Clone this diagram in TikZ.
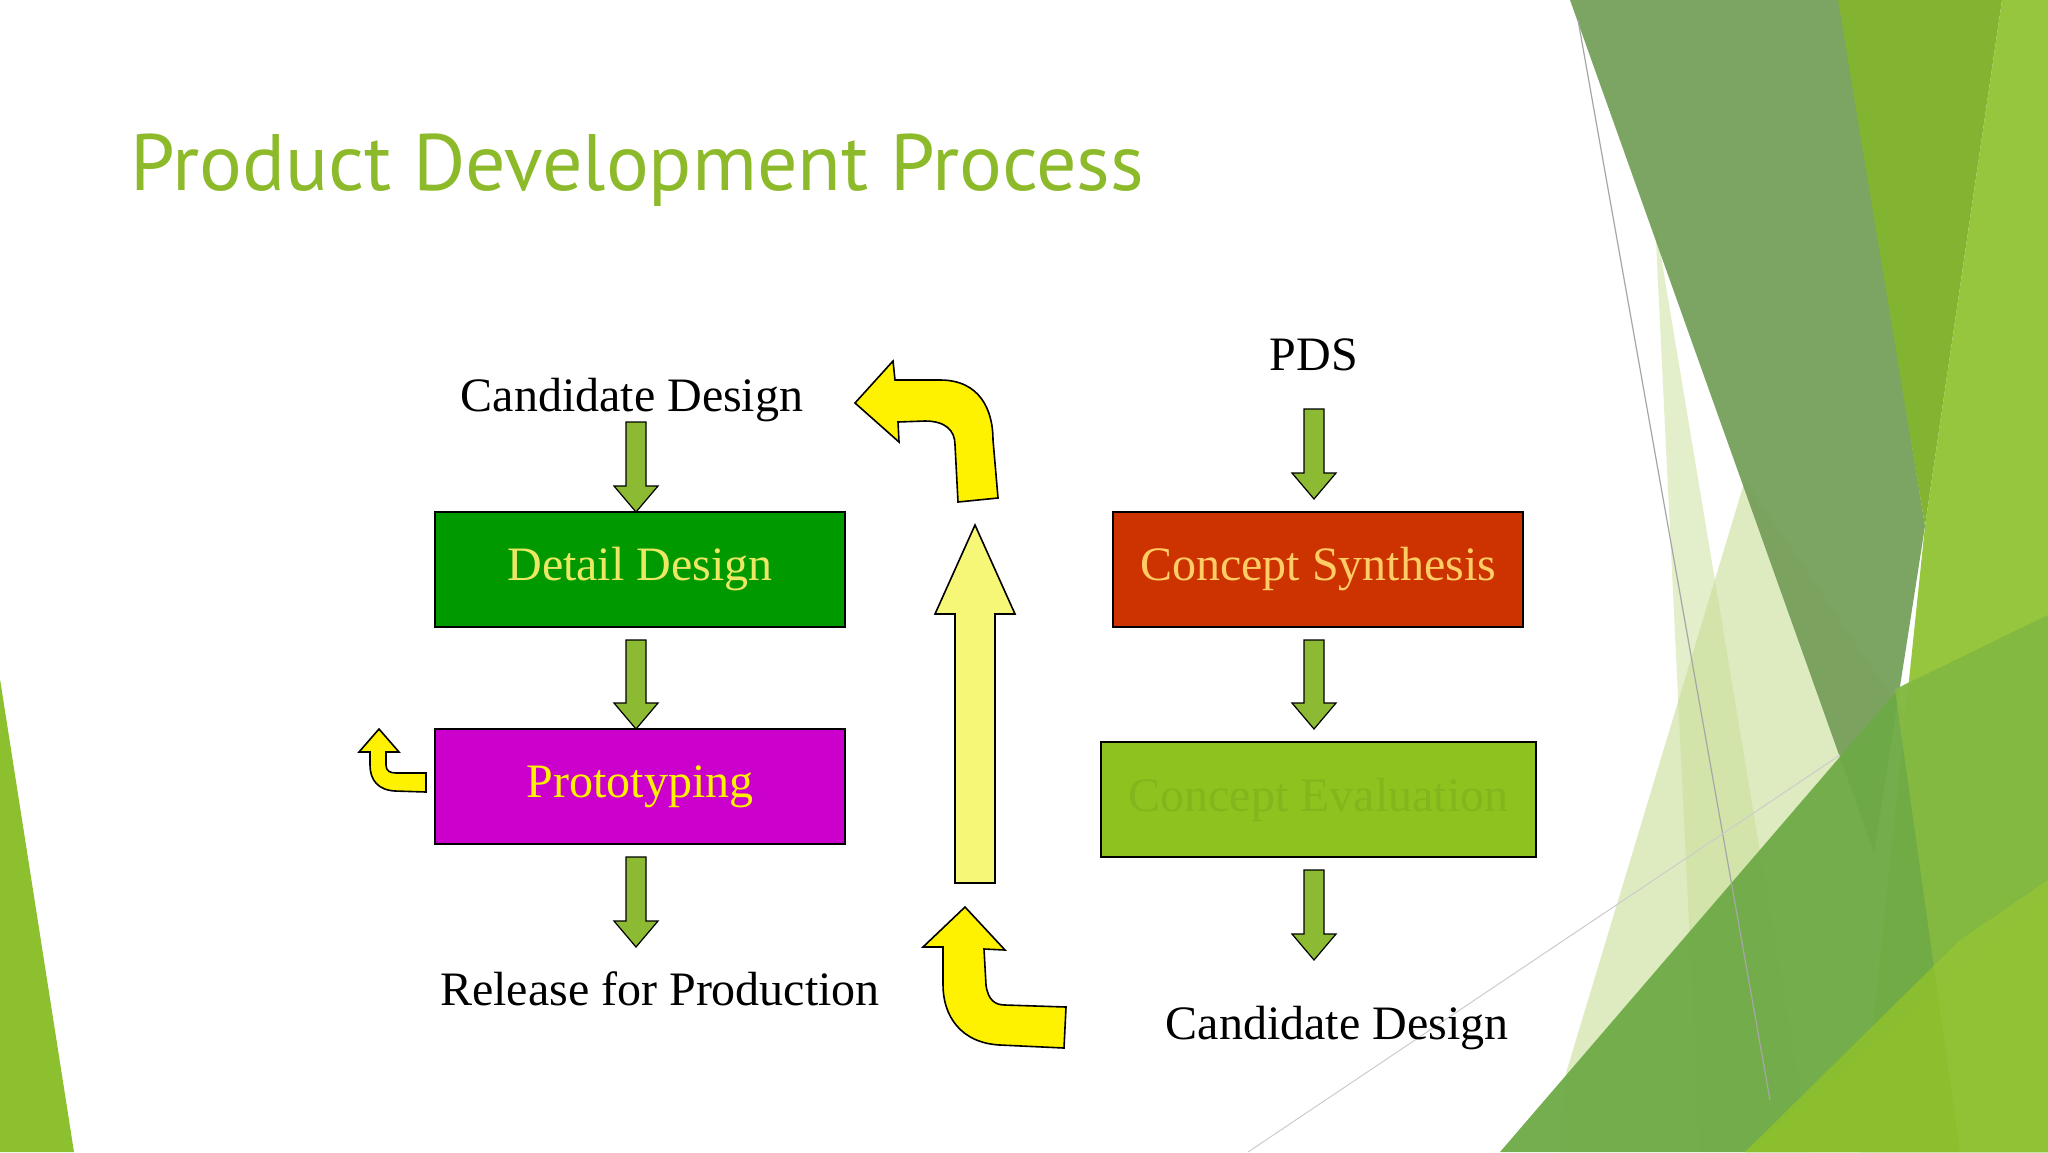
\documentclass[tikz,border=0pt]{standalone}
\usepackage{fontspec}
\setmainfont{Liberation Serif}
\newfontfamily\titlefont{PT Sans}
\begin{document}
\begin{tikzpicture}[x=0.5pt,y=-0.5pt,
  box/.style={draw=black,line width=0.8pt,minimum width=205pt,minimum height=57.5pt,inner sep=0pt,font=\fontsize{24}{28}\selectfont},
  lbl/.style={font=\fontsize{24}{28}\selectfont,text=black,inner sep=0pt},
  garrowstyle/.style={fill=arrowgreen,draw=black,line width=0.6pt,line join=miter},
  curvy/.style={fill=yellow,draw=black,line width=0.8pt,line join=miter}]
\definecolor{titlegreen}{RGB}{141,186,42}
\definecolor{arrowgreen}{RGB}{140,186,50}
\definecolor{ddgreen}{RGB}{0,153,0}
\definecolor{protomag}{RGB}{204,0,204}
\definecolor{synred}{RGB}{204,51,0}
\definecolor{evalgreen}{RGB}{141,194,31}
\definecolor{evaltext}{RGB}{130,182,28}
\definecolor{paleyellow}{RGB}{247,247,119}
\definecolor{dtext}{RGB}{236,232,100}
\definecolor{stext}{RGB}{255,204,102}
\definecolor{bgA}{RGB}{118,160,90}
\definecolor{bgB}{RGB}{130,180,50}
\definecolor{bgC}{RGB}{150,198,62}
\definecolor{bgD}{RGB}{110,170,70}
\definecolor{bgE}{RGB}{141,192,46}
\definecolor{bgF}{RGB}{200,222,150}
\useasboundingbox (0,0) rectangle (2048,1152);
\fill[white] (0,0) rectangle (2048,1152);
% background decoration
\fill[bgF,opacity=0.6] (1566,1073) -- (1745,480) -- (1935,760) -- (1960,1152) -- (1560,1152) -- cycle;
\fill[bgF,opacity=0.5] (1655,220) -- (1810,1152) -- (1700,1152) -- cycle;
\fill[bgA,opacity=0.95] (1570,0) -- (1840,0) -- (1925,526) -- (1874,853) -- cycle;
\fill[bgB] (1838,0) -- (2002,0) -- (1925,526) -- cycle;
\fill[bgC] (2002,0) -- (2048,0) -- (2048,1152) -- (1860,1152) -- (1925,526) -- cycle;
\fill[bgD,opacity=0.95] (1500,1152) -- (1900,687) -- (2048,615) -- (2048,1152) -- cycle;
\fill[bgE,opacity=0.95] (1745,1152) -- (2048,900) -- (2048,1152) -- cycle;
\fill[bgE,opacity=0.9] (1745,1152) -- (1960,940) -- (2048,880) -- (2048,1152) -- cycle;
\fill[bgC,opacity=0.5] (1895,690) -- (1960,1152) -- (2048,1152) -- (2048,600) -- cycle;
\draw[gray!70,line width=0.6pt] (1578,20) -- (1770,1100);
\draw[gray!40,line width=0.5pt] (1248,1152) -- (1840,755);
\fill[bgE] (0,679) -- (74,1152) -- (0,1152) -- cycle;
% title
\node[anchor=base west,inner sep=0pt,text=titlegreen,font=\titlefont\fontsize{40}{48}\selectfont] (title) at (130,190) {Product Development Process};
% boxes
\node[box,fill=ddgreen,text=dtext] (dd) at (640,569.5) {Detail Design};
\node[box,fill=protomag,text=yellow] (pr) at (640,786.5) {Prototyping};
\node[box,fill=synred,text=stext] (cs) at (1318,569.5) {Concept Synthesis};
\node[box,fill=evalgreen,text=evaltext,minimum width=217.5pt] (ce) at (1318.5,799.5) {Concept Evaluation};
% labels
\node[lbl] (cd1) at (632,400) {Candidate Design};
\node[lbl] (pds) at (1314,355) {PDS};
\node[lbl] (rel) at (660,989) {Release for Production};
\node[lbl] (cd2) at (1337,1028) {Candidate Design};
% green block arrows: x, top y, bottom y
\newcommand\garrowx[3]{\draw[garrowstyle] (#1-10,#2) -- (#1+10,#2) -- (#1+10,#3-26) -- (#1+22,#3-26) -- (#1,#3) -- (#1-22,#3-26) -- (#1-10,#3-26) -- cycle;}
\garrowx{636}{422}{512}
\garrowx{636}{640}{729}
\garrowx{636}{857}{947}
\garrowx{1314}{409}{499}
\garrowx{1314}{640}{729}
\garrowx{1314}{870}{960}
% big up arrow
\draw[fill=paleyellow,draw=black,line width=0.8pt] (975,525) -- (1015,614) -- (995,614) -- (995,883) -- (955,883) -- (955,614) -- (935,614) -- cycle;
% curved arrows
\draw[curvy] (855,403) -- (893,361) -- (895,380) -- (940,380) .. controls (980,380) and (993,410) .. (993,440) -- (998,498) -- (958,502) -- (955,445) .. controls (955,430) and (945,421) .. (925,421) -- (898,422) -- (899,442) -- cycle;
\draw[curvy] (965,907) -- (1005,950) -- (984,949) -- (986,985) .. controls (988,1000) and (995,1005) .. (1005,1005) -- (1066,1007) -- (1064,1048) -- (1000,1045) .. controls (960,1043) and (943,1015) .. (943,985) -- (943,947) -- (923,947) -- cycle;
\draw[curvy] (379,729) -- (399,752) -- (386,752) -- (386,765) .. controls (386,771) and (390,773) .. (396,773) -- (426,773) -- (426,792) -- (395,791) .. controls (378,790) and (370,780) .. (370,765) -- (370,752) -- (359,752) -- cycle;
\end{tikzpicture}
\end{document}
